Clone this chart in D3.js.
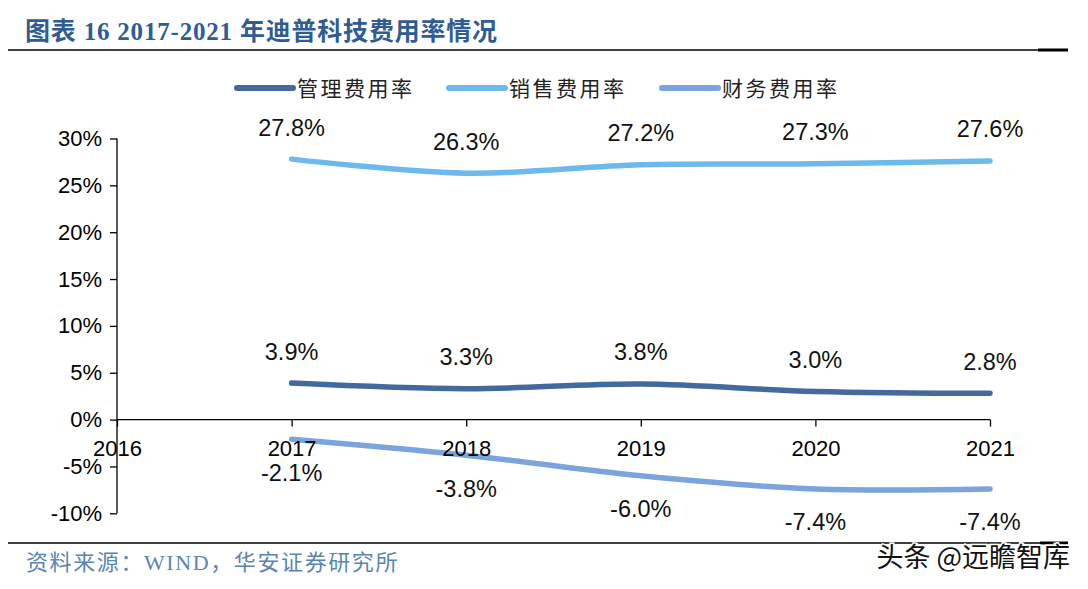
<!DOCTYPE html>
<html><head><meta charset="utf-8">
<script src="https://cdn.jsdelivr.net/npm/d3@7"></script>
<style>body{margin:0;background:#fff}svg{display:block}</style>
</head><body>
<svg id="c" width="1088" height="589"></svg>
<script>
const years = [2016, 2017, 2018, 2019, 2020, 2021];
const dataYears = [2017, 2018, 2019, 2020, 2021];
const seriesNames = ["管理费用率", "销售费用率", "财务费用率"];
const mgmt = [3.9, 3.3, 3.8, 3.0, 2.8];
const sales = [27.8, 26.3, 27.2, 27.3, 27.6];
const fin = [-2.1, -3.8, -6.0, -7.4, -7.4];
const yTicks = [-10, -5, 0, 5, 10, 15, 20, 25, 30];
const colors = ["#44699f", "#6cb9ec", "#7ba3dd"];
const title = "图表 16 2017-2021 年迪普科技费用率情况";
const source = "资料来源：WIND，华安证券研究所";

const svg = d3.select("#c");
const x = d3.scaleLinear().domain([2016, 2021]).range([117, 990]);
const y = d3.scaleLinear().domain([-10, 30]).range([513.3, 138.5]);

// title & rules
svg.append("text").attr("x", 25).attr("y", 40)
  .attr("font-family", "'Liberation Serif','Noto Sans CJK SC',serif").attr("font-weight", "bold")
  .attr("font-size", 25).attr("fill", "#2f5d93").attr("letter-spacing", 0.8).text(title);
svg.append("line").attr("x1", 8).attr("x2", 1040).attr("y1", 50).attr("y2", 50).attr("stroke", "#000").attr("stroke-width", 1.5);
svg.append("line").attr("x1", 1038).attr("x2", 1068).attr("y1", 50).attr("y2", 50).attr("stroke", "#000").attr("stroke-width", 3);
svg.append("line").attr("x1", 8).attr("x2", 1050).attr("y1", 543).attr("y2", 543).attr("stroke", "#000").attr("stroke-width", 1.5);
svg.append("line").attr("x1", 1040).attr("x2", 1068).attr("y1", 543).attr("y2", 543).attr("stroke", "#000").attr("stroke-width", 3);

// legend
const legX = [237, 449, 662];
seriesNames.forEach((n, i) => {
  svg.append("line").attr("x1", legX[i]).attr("x2", legX[i] + 56).attr("y1", 88).attr("y2", 88)
    .attr("stroke", colors[i]).attr("stroke-width", 6).attr("stroke-linecap", "round");
  svg.append("text").attr("x", legX[i] + 60).attr("y", 88).attr("dy", "0.36em")
    .attr("font-family", "'Noto Sans CJK SC',sans-serif").attr("font-size", 21)
    .attr("letter-spacing", 2.5).attr("fill", "#222").text(n);
});

// lines
const all = [mgmt, sales, fin];
const line = d3.line().x((d, i) => x(dataYears[i])).y(d => y(d)).curve(d3.curveCardinal.tension(0));
all.forEach((s, i) => {
  svg.append("path").attr("d", line(s)).attr("fill", "none").attr("stroke", colors[i])
    .attr("stroke-width", 5.5).attr("stroke-linecap", "round");
});

// axes
const font = "'Liberation Sans',Arial,sans-serif";
const yAxis = svg.append("g").attr("transform", "translate(117,0)")
  .call(d3.axisLeft(y).tickValues(yTicks).tickSize(7).tickPadding(8).tickFormat(d => d + "%"));
const xAxis = svg.append("g").attr("transform", `translate(0,${y(0)})`)
  .call(d3.axisBottom(x).tickValues(years).tickSize(7).tickPadding(10).tickFormat(d3.format("d")));
[yAxis, xAxis].forEach(g => {
  g.select(".domain").attr("stroke", "#000").attr("stroke-width", 1.3);
  g.selectAll(".tick line").attr("stroke", "#000").attr("stroke-width", 1.3);
  g.selectAll("text").attr("font-family", font).attr("font-size", 22).attr("fill", "#000");
});
yAxis.select(".domain").attr("d", `M0,${y(30)}V${y(-10)}`);
xAxis.select(".domain").attr("d", `M${x(2016)},0H${x(2021)}`);
xAxis.selectAll(".tick text").attr("dy", "0.71em").attr("y", 21);

// data labels
const offs = [-32, -32, 33];
all.forEach((s, i) => {
  svg.append("g").selectAll("text").data(s).join("text")
    .attr("x", (d, j) => x(dataYears[j])).attr("y", d => y(d) + offs[i]).attr("dy", "0.36em")
    .attr("text-anchor", "middle").attr("font-family", font).attr("font-size", 23.5).attr("fill", "#111")
    .text(d => d.toFixed(1) + "%");
});

// footer
svg.append("text").attr("x", 26).attr("y", 562).attr("dy", "0.36em")
  .attr("font-family", "'Liberation Serif','Noto Sans CJK SC',serif").attr("font-size", 22)
  .attr("fill", "#5a84b3").attr("letter-spacing", 1.6).text(source);
svg.append("text").attr("x", 1070).attr("y", 557).attr("dy", "0.36em").attr("text-anchor", "end")
  .attr("font-family", "'Noto Sans CJK SC',sans-serif").attr("font-size", 27)
  .attr("fill", "#111").attr("stroke", "#fff").attr("stroke-width", 3).attr("paint-order", "stroke")
  .text("头条 @远瞻智库");
</script>
</body></html>
